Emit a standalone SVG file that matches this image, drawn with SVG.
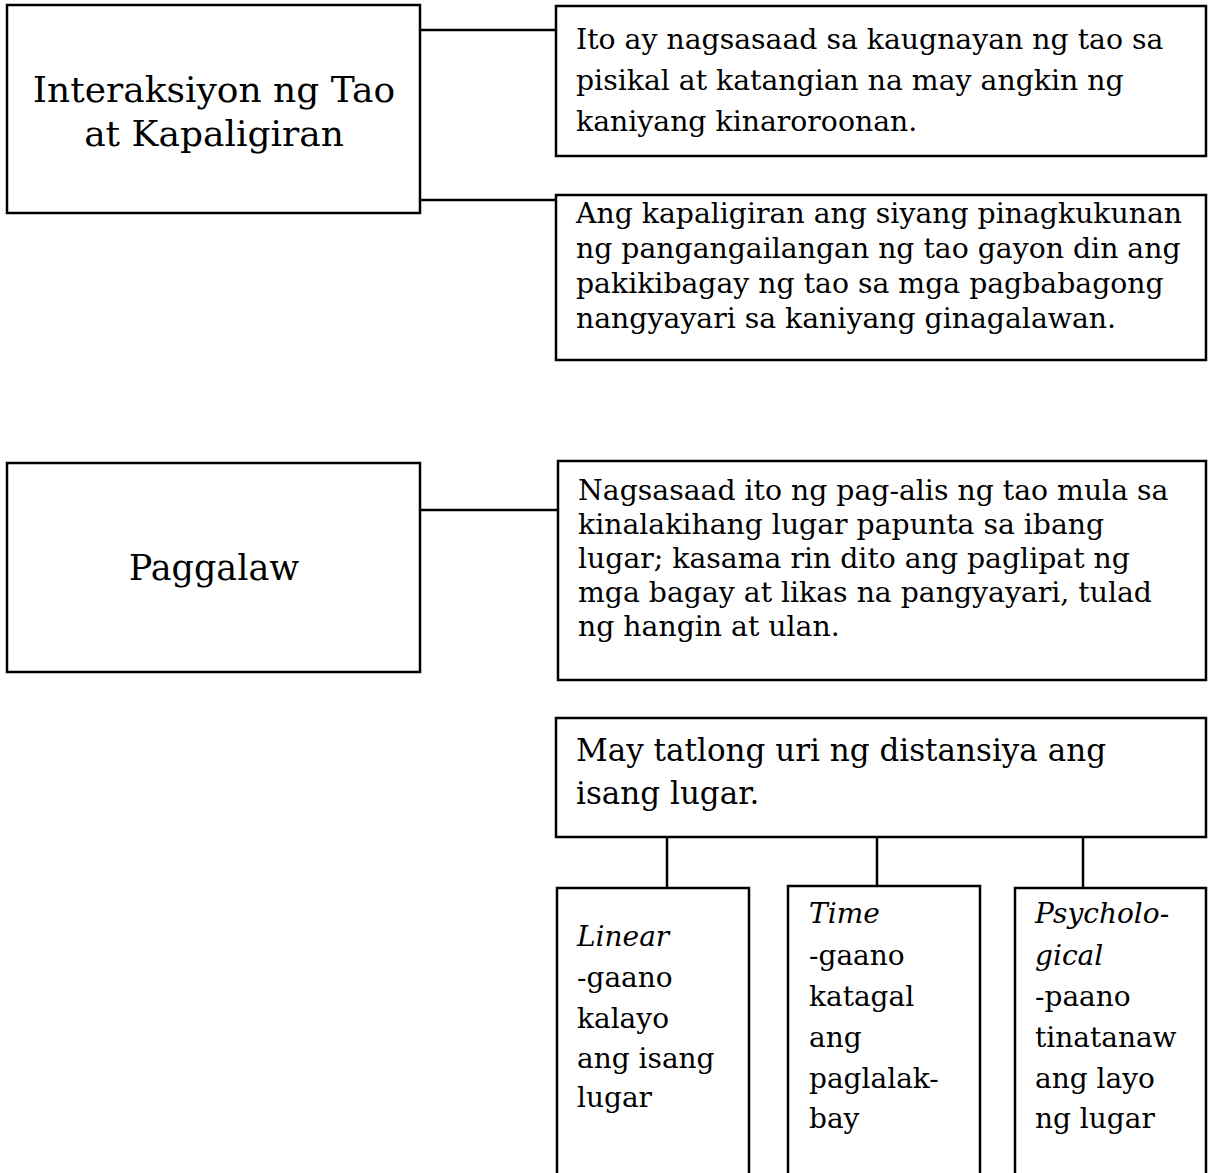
<svg xmlns="http://www.w3.org/2000/svg" width="1208" height="1173" viewBox="0 0 1208 1173">
<style>
.box{fill:#fff;stroke:#000;stroke-width:2.5}
.ln{stroke:#000;stroke-width:2.5;fill:none}
text{font-family:"DejaVu Serif","Liberation Serif",serif;fill:#000}
.big{font-size:36px}
.t{font-size:28.3px}
.m{font-size:31px}
.s{font-size:28px}
.i{font-style:italic}
</style>
<rect width="1208" height="1173" fill="#fff"/>
<g id="connectors">
<line class="ln" x1="420" y1="30" x2="556" y2="30"/>
<line class="ln" x1="420" y1="200" x2="556" y2="200"/>
<line class="ln" x1="420" y1="510" x2="558" y2="510"/>
<line class="ln" x1="667" y1="837" x2="667" y2="888"/>
<line class="ln" x1="877" y1="837" x2="877" y2="886"/>
<line class="ln" x1="1083" y1="837" x2="1083" y2="888"/>
</g>
<g id="n1">
<rect class="box" x="7" y="5" width="413" height="208"/>
<text class="big" text-anchor="middle" x="214" y="102">Interaksiyon ng Tao</text>
<text class="big" text-anchor="middle" x="214" y="146">at Kapaligiran</text>
</g>
<g id="n2">
<rect class="box" x="556" y="6" width="650" height="150"/>
<text class="t" x="576" y="49">Ito ay nagsasaad sa kaugnayan ng tao sa</text>
<text class="t" x="576" y="90">pisikal at katangian na may angkin ng</text>
<text class="t" x="576" y="131">kaniyang kinaroroonan.</text>
</g>
<g id="n3">
<rect class="box" x="556" y="195" width="650" height="165"/>
<text class="t" x="576" y="223">Ang kapaligiran ang siyang pinagkukunan</text>
<text class="t" x="576" y="258">ng pangangailangan ng tao gayon din ang</text>
<text class="t" x="576" y="293">pakikibagay ng tao sa mga pagbabagong</text>
<text class="t" x="576" y="328">nangyayari sa kaniyang ginagalawan.</text>
</g>
<g id="n4">
<rect class="box" x="7" y="463" width="413" height="209"/>
<text class="big" text-anchor="middle" x="214" y="580" style="font-size:35px">Paggalaw</text>
</g>
<g id="n5">
<rect class="box" x="558" y="461" width="648" height="219"/>
<text class="t" x="578" y="500">Nagsasaad ito ng pag-alis ng tao mula sa</text>
<text class="t" x="578" y="534">kinalakihang lugar papunta sa ibang</text>
<text class="t" x="578" y="568">lugar; kasama rin dito ang paglipat ng</text>
<text class="t" x="578" y="602">mga bagay at likas na pangyayari, tulad</text>
<text class="t" x="578" y="636">ng hangin at ulan.</text>
</g>
<g id="n6">
<rect class="box" x="556" y="718" width="650" height="119"/>
<text class="m" x="576" y="761">May tatlong uri ng distansiya ang</text>
<text class="m" x="576" y="804">isang lugar.</text>
</g>
<g id="n7">
<rect class="box" x="557" y="888" width="192" height="300"/>
<text class="s i" x="577" y="946">Linear</text>
<text class="s" x="577" y="987">-gaano</text>
<text class="s" x="577" y="1028">kalayo</text>
<text class="s" x="577" y="1068">ang isang</text>
<text class="s" x="577" y="1107">lugar</text>
</g>
<g id="n8">
<rect class="box" x="788" y="886" width="192" height="300"/>
<text class="s i" x="809" y="923">Time</text>
<text class="s" x="809" y="965">-gaano</text>
<text class="s" x="809" y="1006">katagal</text>
<text class="s" x="809" y="1047">ang</text>
<text class="s" x="809" y="1088">paglalak-</text>
<text class="s" x="809" y="1128">bay</text>
</g>
<g id="n9">
<rect class="box" x="1015" y="888" width="191" height="300"/>
<text class="s i" x="1035" y="923">Psycholo-</text>
<text class="s i" x="1035" y="965">gical</text>
<text class="s" x="1035" y="1006">-paano</text>
<text class="s" x="1035" y="1047">tinatanaw</text>
<text class="s" x="1035" y="1088">ang layo</text>
<text class="s" x="1035" y="1128">ng lugar</text>
</g>
</svg>
